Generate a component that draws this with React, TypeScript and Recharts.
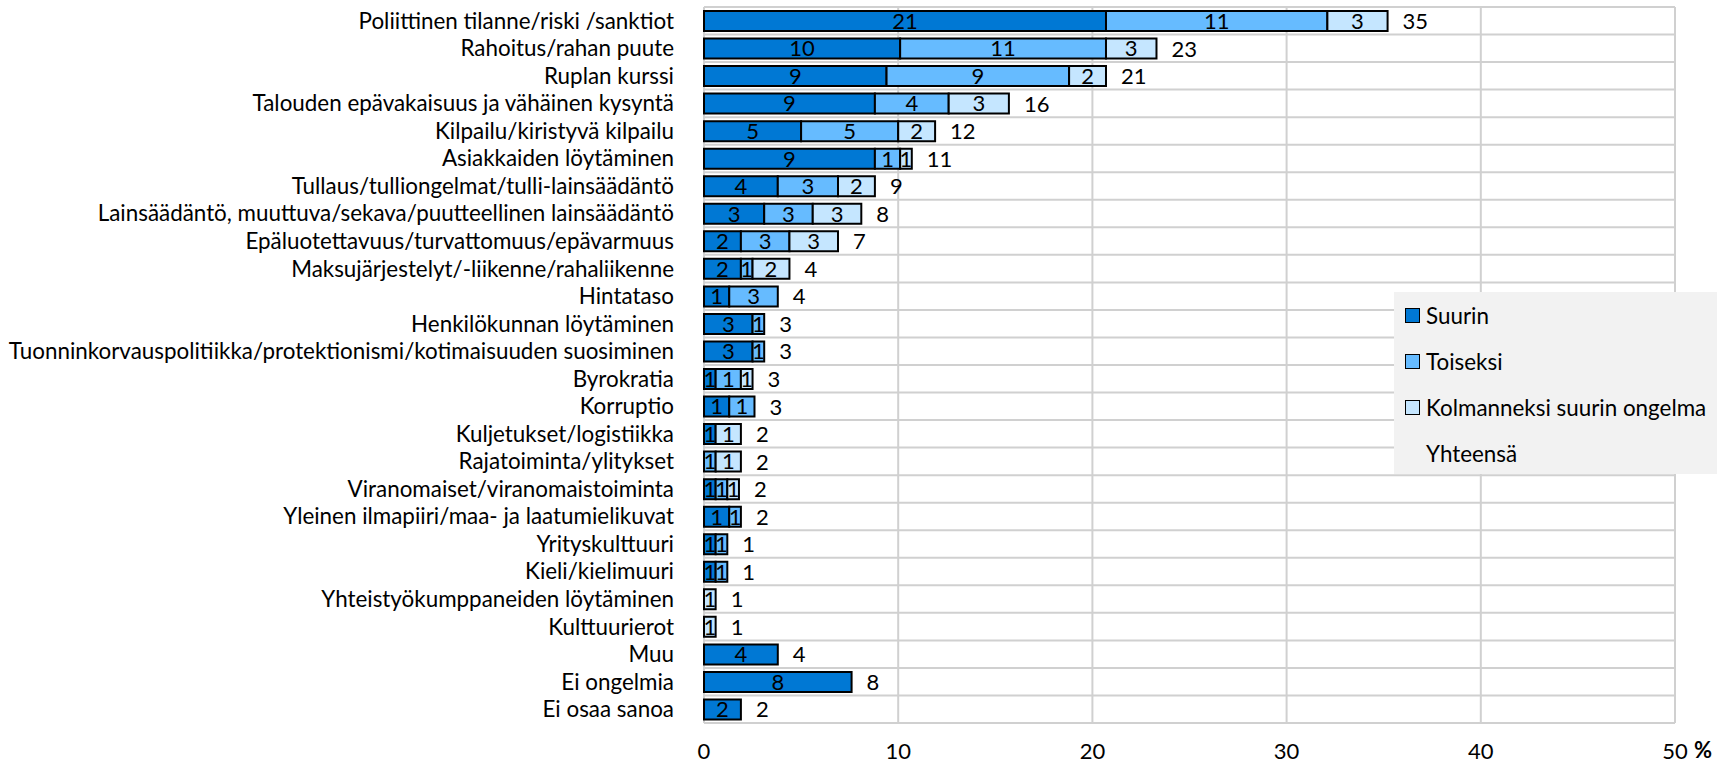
import React from "react";
import { BarChart, Bar, XAxis, YAxis, CartesianGrid, LabelList } from "recharts";

const categories = [
  "Poliittinen tilanne/riski /sanktiot",
  "Rahoitus/rahan puute",
  "Ruplan kurssi",
  "Talouden epävakaisuus ja vähäinen kysyntä",
  "Kilpailu/kiristyvä kilpailu",
  "Asiakkaiden löytäminen",
  "Tullaus/tulliongelmat/tulli-lainsäädäntö",
  "Lainsäädäntö, muuttuva/sekava/puutteellinen lainsäädäntö",
  "Epäluotettavuus/turvattomuus/epävarmuus",
  "Maksujärjestelyt/-liikenne/rahaliikenne",
  "Hintataso",
  "Henkilökunnan löytäminen",
  "Tuonninkorvauspolitiikka/protektionismi/kotimaisuuden suosiminen",
  "Byrokratia",
  "Korruptio",
  "Kuljetukset/logistiikka",
  "Rajatoiminta/ylitykset",
  "Viranomaiset/viranomaistoiminta",
  "Yleinen ilmapiiri/maa- ja laatumielikuvat",
  "Yrityskulttuuri",
  "Kieli/kielimuuri",
  "Yhteistyökumppaneiden löytäminen",
  "Kulttuurierot",
  "Muu",
  "Ei ongelmia",
  "Ei osaa sanoa",
];

// % of respondents
const suurin = [20.7, 10.1, 9.4, 8.8, 5.0, 8.8, 3.8, 3.1, 1.9, 1.9, 1.3, 2.5, 2.5, 0.6, 1.3, 0.6, 0, 0.6, 1.3, 0.6, 0.6, 0, 0, 3.8, 7.6, 1.9];
const toiseksi = [11.4, 10.6, 9.4, 3.8, 5.0, 1.3, 3.1, 2.5, 2.5, 0.6, 2.5, 0.6, 0.6, 1.3, 1.3, 0, 0.6, 0.6, 0.6, 0.6, 0.6, 0, 0, 0, 0, 0];
const kolmas = [3.1, 2.6, 1.9, 3.1, 1.9, 0.6, 1.9, 2.5, 2.5, 1.9, 0, 0, 0, 0.6, 0, 1.3, 1.3, 0.6, 0, 0, 0, 0.6, 0.6, 0, 0, 0];

const xTicks = [0, 10, 20, 30, 40, 50];

const COLORS = { suurin: "#0078d4", toiseksi: "#66bbff", kolmas: "#c5e6ff" };
const FONT = "Lato, 'Open Sans', sans-serif";
const FS = 22;

const data = categories.map((name, i) => ({
  name,
  suurin: suurin[i],
  toiseksi: toiseksi[i],
  kolmas: kolmas[i],
  total: Math.round(suurin[i] + toiseksi[i] + kolmas[i]),
}));

const inner = (v: any) => (v ? Math.round(Number(v)) : "");

// total ("Yhteensä") is drawn after the last non-empty segment of each row
const totalAfterSuurin = (d: any) => (d.toiseksi === 0 && d.kolmas === 0 ? d.total : null);
const totalAfterToiseksi = (d: any) => (d.toiseksi > 0 && d.kolmas === 0 ? d.total : null);
const totalAfterKolmas = (d: any) => (d.kolmas > 0 ? d.total : null);

function TotalLabel(props: any) {
  const { x, y, width, height, value } = props;
  if (value === null || value === undefined || value === "") return null;
  return (
    <text x={Number(x) + Number(width) + 15} y={Number(y) + Number(height) / 2} dy={8} fontSize={FS} fill="#000" fontFamily={FONT}>
      {value}
    </text>
  );
}

const legendItems = [
  { label: "Suurin", color: COLORS.suurin },
  { label: "Toiseksi", color: COLORS.toiseksi },
  { label: "Kolmanneksi suurin ongelma", color: COLORS.kolmas },
  { label: "Yhteensä", color: null },
];

function LegendBox() {
  return (
    <div
      style={{
        position: "absolute",
        left: 1394,
        top: 292,
        background: "#f2f2f2",
        width: 323,
        height: 182,
        boxSizing: "border-box",
        fontFamily: FONT,
        fontSize: 22.4,
      }}
    >
      {legendItems.map((it) => (
        <div key={it.label} style={{ display: "flex", alignItems: "center", height: 46, paddingLeft: 11 }}>
          <span
            style={{
              width: 13,
              height: 13,
              marginRight: 6,
              background: it.color ?? "transparent",
              border: it.color ? "1.5px solid #000" : "1.5px solid transparent",
            }}
          />
          <span>{it.label}</span>
        </div>
      ))}
    </div>
  );
}

const labelProps = { fill: "#000", fontSize: FS, fontFamily: FONT };

export default function App() {
  return (
    <div style={{ position: "absolute", left: 0, top: 0, width: 1727, height: 764, background: "#fff" }}>
      <BarChart
        width={1727}
        height={764}
        data={data}
        layout="vertical"
        margin={{ top: 7, right: 52, left: 0, bottom: 11 }}
        barSize={20}
      >
        <CartesianGrid
          stroke="#d0d0d0"
          strokeWidth={2}
          horizontalCoordinatesGenerator={({ offset }: any) =>
            categories.map((_, i) => offset.top + (i * offset.height) / categories.length).concat(offset.top + offset.height)
          }
        />
        <XAxis
          type="number"
          domain={[0, 50]}
          ticks={xTicks}
          axisLine={false}
          tickLine={false}
          tickSize={0}
          tickMargin={20}
          height={30}
          tick={{ fontSize: FS, fill: "#000", fontFamily: FONT }}
          label={{ value: "%", position: "right", offset: 19, dy: 12, fontSize: FS, fontWeight: 700, fill: "#000", fontFamily: FONT }}
        />
        <YAxis
          type="category"
          dataKey="name"
          width={704}
          axisLine={false}
          tickLine={false}
          tickSize={0}
          tickMargin={30}
          interval={0}
          tick={{ fontSize: 22.4, fill: "#000", fontFamily: FONT }}
        />
        <Bar dataKey="suurin" name="Suurin" stackId="a" fill={COLORS.suurin} stroke="#000" strokeWidth={2} isAnimationActive={false}>
          <LabelList dataKey="suurin" position="center" formatter={inner} {...labelProps} />
          <LabelList dataKey={totalAfterSuurin} content={TotalLabel} />
        </Bar>
        <Bar dataKey="toiseksi" name="Toiseksi" stackId="a" fill={COLORS.toiseksi} stroke="#000" strokeWidth={2} isAnimationActive={false}>
          <LabelList dataKey="toiseksi" position="center" formatter={inner} {...labelProps} />
          <LabelList dataKey={totalAfterToiseksi} content={TotalLabel} />
        </Bar>
        <Bar dataKey="kolmas" name="Kolmanneksi suurin ongelma" stackId="a" fill={COLORS.kolmas} stroke="#000" strokeWidth={2} isAnimationActive={false}>
          <LabelList dataKey="kolmas" position="center" formatter={inner} {...labelProps} />
          <LabelList dataKey={totalAfterKolmas} content={TotalLabel} />
        </Bar>
      </BarChart>
      <LegendBox />
    </div>
  );
}
